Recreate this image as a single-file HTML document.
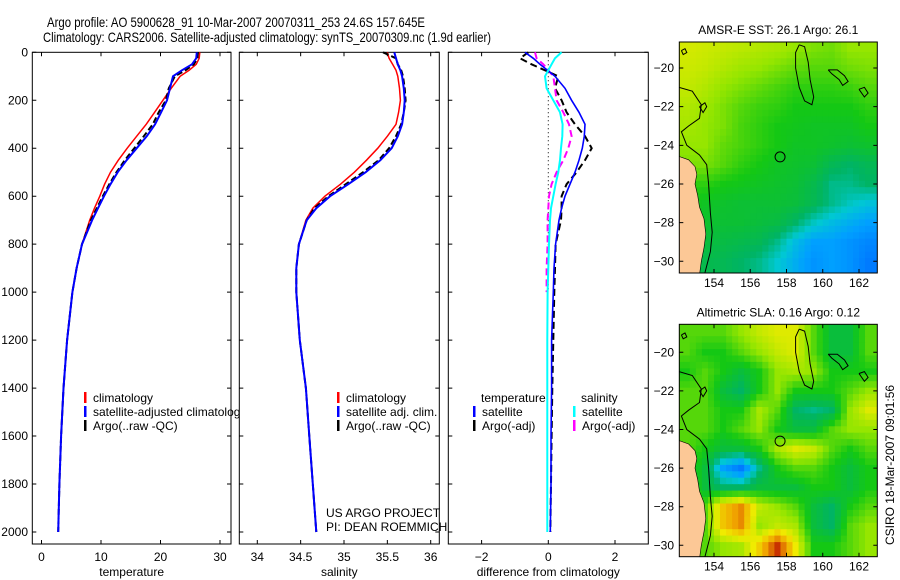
<!DOCTYPE html>
<html><head><meta charset="utf-8"><style>
html,body{margin:0;padding:0;background:#fff;}
svg{display:block;font-family:"Liberation Sans",sans-serif;}
</style></head><body>
<svg id="fig" width="900" height="580" viewBox="0 0 900 580" xmlns="http://www.w3.org/2000/svg">
<text x="47" y="27" font-size="14" textLength="378" lengthAdjust="spacingAndGlyphs">Argo profile: AO 5900628_91 10-Mar-2007 20070311_253 24.6S 157.645E</text>
<text x="43" y="42" font-size="14" textLength="448" lengthAdjust="spacingAndGlyphs">Climatology: CARS2006. Satellite-adjusted climatology: synTS_20070309.nc (1.9d earlier)</text>
<text x="0" y="0" font-size="12" transform="translate(894,465) rotate(-90)" text-anchor="middle">CSIRO 18-Mar-2007 09:01:56</text>
</svg>
<script>
// ---------- data ----------
const depths = [0,25,50,75,100,150,200,250,300,350,400,450,500,550,600,650,700,800,900,1000,1200,1400,1600,1800,2000];
const tempClim = [26.6,26.5,26.0,24.8,23.3,21.8,20.4,19.0,17.6,16.0,14.4,12.9,11.6,10.6,9.8,8.9,8.1,6.8,5.9,5.2,4.3,3.7,3.3,3.0,2.8];
const tempSatAdj = [26.1,26.0,25.3,23.6,22.1,21.6,21.1,20.1,19.1,17.7,16.0,14.3,12.8,11.6,10.5,9.5,8.5,6.8,5.9,5.2,4.3,3.7,3.3,3.0,2.8];
const tempArgo = [26.3,26.2,25.6,24.2,22.4,21.4,20.9,19.7,18.7,17.2,15.6,14.0,12.6,11.4,10.3,9.3,8.3,6.8,5.9,5.2,4.3,3.7,3.3,3.0,2.8];
const salClim = [35.50,35.52,35.56,35.60,35.62,35.64,35.65,35.63,35.60,35.50,35.39,35.26,35.12,34.96,34.78,34.64,34.56,34.48,34.45,34.45,34.49,34.56,34.60,34.64,34.68];
const salSatAdj = [35.58,35.60,35.62,35.65,35.67,35.69,35.70,35.69,35.67,35.62,35.55,35.42,35.25,35.05,34.84,34.68,34.57,34.48,34.45,34.45,34.49,34.56,34.60,34.64,34.68];
const salArgo = [35.45,35.60,35.62,35.66,35.68,35.70,35.71,35.69,35.66,35.60,35.52,35.40,35.22,35.02,34.82,34.66,34.57,34.48,34.45,34.45,34.49,34.56,34.60,34.64,34.68];
const diffDepths = [0,25,50,100,150,200,250,300,350,400,450,500,550,600,650,700,800,900,1000,1200,1400,1600,1800,2000];
const dTempSat = [-0.70,-0.45,-0.25,0.20,0.50,0.70,0.92,1.10,1.08,1.02,0.92,0.80,0.65,0.50,0.40,0.32,0.22,0.17,0.15,0.10,0.10,0.08,0.08,0.06];
const dTempArgo = [-0.60,-0.85,-0.50,0.30,0.20,0.40,0.55,0.80,1.10,1.30,1.10,0.85,0.55,0.40,0.40,0.38,0.22,0.20,0.18,0.15,0.12,0.10,0.08,0.06];
const dSalSat = [0.40,0.20,0.10,-0.10,-0.05,0.15,0.35,0.43,0.42,0.38,0.35,0.30,0.22,0.15,0.08,0.05,0.02,0.0,-0.02,-0.03,-0.03,-0.03,-0.03,-0.03];
const dSalArgo = [-0.40,-0.35,-0.15,0.15,0.20,0.25,0.45,0.62,0.70,0.60,0.45,0.25,0.10,0.02,0.0,-0.02,-0.02,-0.05,-0.05,null,null,null,null,null];
const depthTicks = [0,200,400,600,800,1000,1200,1400,1600,1800,2000];
const tempTicks = [0,10,20,30];
const salTicks = [34,34.5,35,35.5,36];
const diffTicks = [-2,0,2];
const latTicks = [-20,-22,-24,-26,-28,-30];
const lonTicks = [154,156,158,160,162];
const gridLons = [152.5,153.5,154.5,155.5,156.5,157.5,158.5,159.5,160.5,161.5,162.5];
const gridLats = [-19,-20,-21,-22,-23,-24,-25,-26,-27,-28,-29,-30];
const sstGrid = [
[0.67,0.66,0.65,0.64,0.63,0.62,0.60,0.58,0.57,0.60,0.60],
[0.66,0.65,0.63,0.61,0.60,0.58,0.56,0.55,0.55,0.57,0.58],
[0.65,0.63,0.60,0.58,0.56,0.54,0.52,0.52,0.52,0.53,0.55],
[0.63,0.61,0.58,0.55,0.53,0.52,0.50,0.50,0.50,0.50,0.52],
[0.62,0.60,0.58,0.54,0.52,0.50,0.49,0.48,0.48,0.48,0.50],
[0.60,0.60,0.56,0.54,0.52,0.50,0.48,0.48,0.47,0.46,0.47],
[0.58,0.58,0.55,0.52,0.50,0.48,0.47,0.46,0.42,0.40,0.42],
[0.52,0.52,0.50,0.49,0.48,0.47,0.46,0.43,0.38,0.38,0.40],
[0.50,0.48,0.47,0.46,0.46,0.46,0.45,0.42,0.38,0.35,0.33],
[0.48,0.47,0.46,0.46,0.45,0.44,0.40,0.35,0.32,0.30,0.28],
[0.46,0.45,0.44,0.43,0.42,0.38,0.32,0.28,0.28,0.26,0.24],
[0.44,0.43,0.42,0.40,0.38,0.34,0.30,0.26,0.28,0.26,0.22]];
const slaGrid = [
[0.55,0.55,0.55,0.60,0.65,0.68,0.68,0.55,0.45,0.45,0.55],
[0.55,0.50,0.50,0.55,0.60,0.65,0.68,0.55,0.45,0.45,0.55],
[0.50,0.55,0.50,0.45,0.50,0.60,0.62,0.60,0.50,0.50,0.50],
[0.55,0.55,0.45,0.40,0.50,0.60,0.50,0.50,0.50,0.55,0.60],
[0.55,0.55,0.50,0.50,0.62,0.55,0.40,0.38,0.40,0.60,0.68],
[0.55,0.55,0.50,0.55,0.60,0.50,0.45,0.45,0.55,0.60,0.60],
[0.55,0.50,0.45,0.45,0.50,0.62,0.68,0.65,0.55,0.50,0.55],
[0.55,0.45,0.28,0.22,0.38,0.50,0.55,0.55,0.50,0.45,0.50],
[0.55,0.45,0.40,0.40,0.45,0.45,0.45,0.50,0.50,0.45,0.50],
[0.55,0.55,0.75,0.82,0.65,0.60,0.55,0.45,0.40,0.50,0.55],
[0.55,0.55,0.75,0.82,0.60,0.65,0.62,0.45,0.40,0.55,0.60],
[0.55,0.55,0.60,0.62,0.74,0.90,0.70,0.50,0.50,0.55,0.60]];
const argoLon = 157.645, argoLat = -24.6;

// ---------- helpers ----------
const svg = document.getElementById('fig');
const NS = 'http://www.w3.org/2000/svg';
function mk(tag, attrs, parent){ const e=document.createElementNS(NS,tag); for(const k in attrs) e.setAttribute(k,attrs[k]); (parent||svg).appendChild(e); return e; }
function lin(d0,d1,r0,r1){ return v => r0+(v-d0)*(r1-r0)/(d1-d0); }
const Y0=52.3, Ybot=544;
const yDepth = lin(0,2000,Y0,532);

function panel(name,x0,x1,xs,xticks,xfmt,xlabel){
  const r=mk('rect',{x:x0,y:Y0,width:x1-x0,height:Ybot-Y0,fill:'#fff',stroke:'#000','stroke-width':1});
  
  
  xticks.forEach(t=>{
    const x=xs(t);
    const l=mk('path',{d:`M${x},${Y0}v4M${x},${Ybot}v-4`,stroke:'#000','stroke-width':1});
    
    
    const tx=mk('text',{x:x,y:561,'font-size':12,'text-anchor':'middle'}); tx.textContent=xfmt(t);
    
    
  });
  depthTicks.forEach(d=>{
    const y=yDepth(d);
    const l=mk('path',{d:`M${x0},${y}h4M${x1},${y}h-4`,stroke:'#000','stroke-width':1});
    
    
  });
  const t=mk('text',{x:(x0+x1)/2,y:576,'font-size':12,'text-anchor':'middle'}); t.textContent=xlabel;
  
  
}
function line(xs,xv,dv,color,width,dash,name){
  let d='', pen=false;
  xv.forEach((v,i)=>{ if(v===null||v===undefined){pen=false;return;} d+=(pen?'L':'M')+xs(v).toFixed(1)+','+yDepth(dv[i]).toFixed(1); pen=true; });
  const p=mk('path',{d:d,fill:'none',stroke:color,'stroke-width':width,'stroke-dasharray':dash||'none'});
  
  
}
function legendRow(x,y,color,label,name){
  const b=mk('rect',{x:x,y:y-10,width:2.5,height:11,fill:color});
  
  
  const t=mk('text',{x:x+9,y:y,'font-size':12}); t.textContent=label;
  
  
}

// ---------- panel 1: temperature ----------
const xT = lin(0,10,41.5,101);
panel('temperature-panel',32.3,231,xT,tempTicks,String,'temperature');
depthTicks.forEach(d=>{
  const t=mk('text',{x:28,y:yDepth(d)+4,'font-size':12,'text-anchor':'end'}); t.textContent=d;
  
  
});
line(xT,tempClim,depths,'#f00',1.5,null,'temperature-climatology-line');
line(xT,tempArgo,depths,'#000',2,'6,3','temperature-argo-line');
line(xT,tempSatAdj,depths,'#00f',2,null,'temperature-satellite-adjusted-line');
legendRow(84,402,'#f00','climatology','temp-legend-climatology');
legendRow(84,416,'#00f','satellite-adjusted climatology','temp-legend-satellite');
legendRow(84,430,'#000','Argo(..raw -QC)','temp-legend-argo');

// ---------- panel 2: salinity ----------
const xS = lin(34,36,257.3,430.7);
panel('salinity-panel',239.3,439.3,xS,salTicks,String,'salinity');
line(xS,salClim,depths,'#f00',1.5,null,'salinity-climatology-line');
line(xS,salArgo,depths,'#000',2,'6,3','salinity-argo-line');
line(xS,salSatAdj,depths,'#00f',2,null,'salinity-satellite-adjusted-line');
legendRow(337,402,'#f00','climatology','sal-legend-climatology');
legendRow(337,416,'#00f','satellite adj. clim.','sal-legend-satellite');
legendRow(337,430,'#000','Argo(..raw -QC)','sal-legend-argo');

// ---------- panel 3: differences ----------
const xD = lin(0,2,548.3,615);
panel('difference-panel',448.3,648.3,xD,diffTicks,v=>v<0?'\u2212'+(-v):String(v),'difference from climatology');
const zl=mk('path',{d:`M${xD(0)},${yDepth(0)}V${yDepth(1000)}`,stroke:'#000','stroke-width':1,'stroke-dasharray':'1,3'});


line(xD,dTempArgo,diffDepths,'#000',2,'7,4','diff-temperature-argo-line');
line(xD,dSalArgo,diffDepths,'#f0f',2,'7,4','diff-salinity-argo-line');
line(xD,dTempSat,diffDepths,'#00f',1.6,null,'diff-temperature-satellite-line');
line(xD,dSalSat,diffDepths,'#0ff',2,null,'diff-salinity-satellite-line');
[['temperature',481],['salinity',581]].forEach(([s,x])=>{
  const t=mk('text',{x:x,y:402,'font-size':12}); t.textContent=s;
  
  
});
legendRow(473,416,'#00f','satellite','diff-legend-temp-satellite');
legendRow(473,430,'#000','Argo(-adj)','diff-legend-temp-argo');
legendRow(573,416,'#0ff','satellite','diff-legend-sal-satellite');
legendRow(573,430,'#f0f','Argo(-adj)','diff-legend-sal-argo');

const c1=mk('text',{x:326,y:517,'font-size':12}); c1.textContent='US ARGO PROJECT';


const c2=mk('text',{x:326,y:531,'font-size':12}); c2.textContent='PI: DEAN ROEMMICH';



// ---------- maps ----------
const stops=[[0,[0,60,240]],[0.2,[0,110,255]],[0.28,[0,160,255]],[0.34,[0,200,210]],[0.4,[0,180,100]],[0.5,[20,200,20]],[0.6,[150,230,0]],[0.7,[240,235,0]],[0.8,[240,160,0]],[0.9,[200,50,0]],[1,[120,0,0]]];
function cmap(v){ v=Math.max(0,Math.min(1,v)); for(let i=1;i<stops.length;i++){ if(v<=stops[i][0]){ const a=stops[i-1],b=stops[i],f=(v-a[0])/(b[0]-a[0]); return 'rgb('+a[1].map((c,k)=>Math.round(c+(b[1][k]-c)*f)).join(',')+')'; } } return 'rgb(120,0,0)'; }
function sample(grid,lon,lat){
  let fx=(lon-gridLons[0])/(gridLons[1]-gridLons[0]), fy=(lat-gridLats[0])/(gridLats[1]-gridLats[0]);
  fx=Math.max(0,Math.min(gridLons.length-1.001,fx)); fy=Math.max(0,Math.min(gridLats.length-1.001,fy));
  const i=Math.floor(fx),j=Math.floor(fy),u=fx-i,w=fy-j;
  return grid[j][i]*(1-u)*(1-w)+grid[j][i+1]*u*(1-w)+grid[j+1][i]*(1-u)*w+grid[j+1][i+1]*u*w;
}
const landPoly=[[152.0,-24.55],[152.6,-24.75],[152.95,-25.1],[153.05,-25.5],[152.95,-26.0],[153.1,-26.6],[153.2,-27.2],[153.45,-27.8],[153.55,-28.6],[153.45,-29.3],[153.3,-30.0],[153.2,-30.7],[152.0,-30.7]];
const contours=[
 [[152.07,-21.0],[152.8,-21.2],[153.3,-21.9],[153.2,-22.6],[152.6,-23.0],[152.2,-23.3],[152.5,-24.0],[153.2,-24.5],[153.6,-25.0],[153.7,-26.0],[153.8,-27.5],[153.9,-28.5],[153.8,-29.5],[153.5,-30.6]],
 [[158.7,-18.8],[159.0,-18.9],[159.2,-19.7],[159.3,-20.6],[159.5,-21.5],[159.4,-21.9],[159.0,-21.7],[158.7,-21.0],[158.5,-20.0],[158.5,-19.2],[158.7,-18.8]],
 [[160.3,-20.1],[160.8,-20.1],[161.2,-20.4],[161.4,-20.7],[161.1,-20.9],[160.9,-20.6],[160.5,-20.3],[160.3,-20.1]],
 [[162.0,-21.1],[162.3,-21.0],[162.5,-21.3],[162.3,-21.5],[162.0,-21.1]],
 [[153.2,-22.0],[153.5,-21.8],[153.6,-22.0],[153.4,-22.3],[153.2,-22.0]],
 [[152.2,-19.1],[152.4,-19.0],[152.5,-19.2],[152.3,-19.3],[152.2,-19.1]]
];
function map(name,title,grid,top,bot,lat20y,lat30y){
  const L=679.3,R=877.3;
  const xl=lin(154,162,714,859), yl=lin(-20,-30,lat20y,lat30y);
  const g=mk('g',{});
  
  
  const cid=name+'-clip';
  const cp=mk('clipPath',{id:cid},g); mk('rect',{x:L,y:top,width:R-L,height:bot-top},cp);
  const cells=mk('g',{'clip-path':`url(#${cid})`},g);
  
  
  const step=1/3;
  for(let lat=-18.5;lat>-31;lat-=step){
    for(let lon=152.0;lon<163.2;lon+=step){
      const x=xl(lon), y=yl(lat);
      const v=sample(grid,lon+step/2,lat-step/2);
      const c=mk('rect',{x:x.toFixed(1),y:y.toFixed(1),width:(xl(lon+step)-x+0.6).toFixed(1),height:(yl(lat-step)-y+0.6).toFixed(1),fill:cmap(v)},cells);
      
      
    }
  }
  const land=mk('path',{d:'M'+landPoly.map(p=>xl(p[0]).toFixed(1)+','+yl(p[1]).toFixed(1)).join('L')+'Z',fill:'#fcc896',stroke:'#000','stroke-width':0.6},cells);
  
  
  contours.forEach(cn=>{
    const p=mk('path',{d:'M'+cn.map(q=>xl(q[0]).toFixed(1)+','+yl(q[1]).toFixed(1)).join('L'),fill:'none',stroke:'#000','stroke-width':1},cells);
    
    
  });
  const m=mk('circle',{cx:xl(argoLon),cy:yl(argoLat),r:5,fill:'none',stroke:'#000','stroke-width':1},g);
  
  
  const fr=mk('rect',{x:L,y:top,width:R-L,height:bot-top,fill:'none',stroke:'#000','stroke-width':1},g);
  
  
  latTicks.forEach(t=>{
    const y=yl(t);
    const l=mk('path',{d:`M${L},${y}h4M${R},${y}h-4`,stroke:'#000'},g);
    
    
    const tx=mk('text',{x:674,y:y+4,'font-size':12,'text-anchor':'end'},g); tx.textContent='\u2212'+(-t);
    
    
  });
  lonTicks.forEach(t=>{
    const x=xl(t);
    const l=mk('path',{d:`M${x},${top}v4M${x},${bot}v-4`,stroke:'#000'},g);
    
    
    const tx=mk('text',{x:x,y:bot+14,'font-size':12,'text-anchor':'middle'},g); tx.textContent=t;
    
    
  });
  const tt=mk('text',{x:(L+R)/2,y:top-8,'font-size':12,'text-anchor':'middle'},g); tt.textContent=title;
  
  
}
map('sst-map','AMSR-E SST: 26.1 Argo: 26.1',sstGrid,42,273,68,261.3);
map('sla-map','Altimetric SLA: 0.16 Argo: 0.12',slaGrid,324.3,556.7,352.3,545.3);
</script>
</body></html>
